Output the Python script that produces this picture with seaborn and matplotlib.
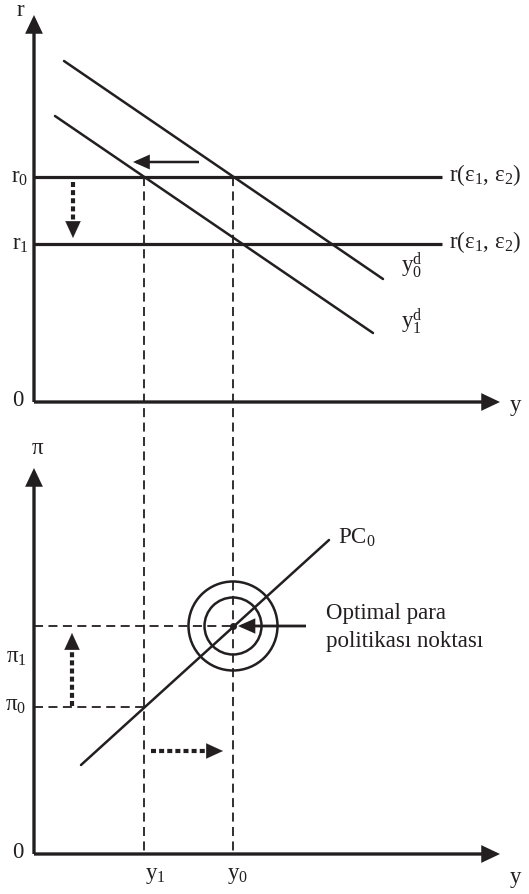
import numpy as np
import pandas as pd
import seaborn as sns
import matplotlib
matplotlib.use("Agg")
import matplotlib.pyplot as plt
from matplotlib.patches import Circle

sns.set_style("white")
plt.rcParams['font.family'] = ['Liberation Serif', 'DejaVu Serif']
plt.rcParams['mathtext.fontset'] = 'custom'
plt.rcParams['mathtext.rm'] = 'Liberation Serif'
plt.rcParams['mathtext.it'] = 'Liberation Serif:italic'

INK = '#231f20'

# ---- diagram data (figure pixel coordinates, y grows downward) ----
origin_top = (34, 402)
origin_bot = (34, 854)
x_axis_end = 500
y_axis_top_end = 15
y_axis_bot_end = 468

r_levels = [177, 244]                       # r0, r1
r_line_x = [34, 442]
yd0_x = [64, 383]; yd0_y = [61, 279]        # y0^d demand curve
yd1_x = [55, 373]; yd1_y = [116, 333]       # y1^d demand curve
pc_x = [81, 329]; pc_y = [765, 540]         # PC0 Phillips curve
y_levels = [233, 144]                       # y0, y1
pi_levels = [707, 626]                      # pi0, pi1
target = (233, 626)
circle_radii = [28.5, 44.5]

fig = plt.figure(figsize=(5.29, 8.94), dpi=100)
ax = fig.add_axes([0, 0, 1, 1])
ax.set_xlim(0, 529)
ax.set_ylim(894, 0)
ax.axis('off')

def arrow(p0, p1, lw=2.4, hl=0.95, hw=0.45, ls='-'):
    ax.annotate('', xy=p1, xytext=p0,
                arrowprops=dict(arrowstyle=f'-|>,head_length={hl},head_width={hw}',
                                lw=lw, color=INK, shrinkA=0, shrinkB=0,
                                linestyle=ls, joinstyle='miter', capstyle='butt'))

# axes
for (ox, oy), ytop in [(origin_top, y_axis_top_end), (origin_bot, y_axis_bot_end)]:
    arrow((ox, oy), (ox, ytop))
    arrow((ox, oy), (x_axis_end, oy))

# r lines
for r in r_levels:
    ax.plot(r_line_x, [r, r], color=INK, lw=2.3, solid_capstyle='butt')

# demand curves and Phillips curve through seaborn
for xs, ys in [(yd0_x, yd0_y), (yd1_x, yd1_y), (pc_x, pc_y)]:
    sns.lineplot(x=xs, y=ys, ax=ax, color=INK, lw=1.8, sort=False)

# vertical dashed lines
for yv in y_levels:
    ax.plot([yv, yv], [r_levels[0], origin_bot[1]], color=INK, lw=1.3,
            dashes=(5, 3))
# horizontal dashed lines
ax.plot([34, y_levels[0]], [pi_levels[1]] * 2, color=INK, lw=1.3, dashes=(5, 3))
ax.plot([34, y_levels[1]], [pi_levels[0]] * 2, color=INK, lw=1.3, dashes=(5, 3))

# circles
for rad in circle_radii:
    ax.add_patch(Circle(target, rad, fill=False, ec=INK, lw=1.8))
ax.plot(*target, 'o', color=INK, ms=4)

# solid arrows
arrow((199, 162), (133, 162), lw=1.8, hl=0.9, hw=0.4)
arrow((306, 626), (238, 626), lw=2.0, hl=0.9, hw=0.4)

# dotted thick arrows
def dotted_arrow(p0, p1, head_at):
    ax.plot([p0[0], head_at[0]], [p0[1], head_at[1]], color=INK, lw=3.0,
            dashes=(1.2, 0.75), solid_capstyle='butt', dash_capstyle='butt')
    arrow(head_at, p1, lw=0.1, hl=1.2, hw=0.55)

dotted_arrow((73, 182), (73, 238), (73, 224))
dotted_arrow((72, 706), (72, 633), (72, 647))
dotted_arrow((151, 751), (223, 751), (208, 751))

# labels
fs = 16.5
kw = dict(color=INK, fontsize=fs)
ax.text(20, 10, 'r', ha='center', va='center', **kw)
ax.text(18, 400, '0', ha='center', va='center', **kw)
ax.text(18, 853, '0', ha='center', va='center', **kw)
ax.text(20, 177, r'$\mathrm{r}_0$', ha='center', va='center', **kw)
ax.text(20, 244, r'$\mathrm{r}_1$', ha='center', va='center', **kw)
for r in r_levels:
    ax.text(449, r - 2, r'$\mathrm{r(\varepsilon_1,\,\varepsilon_2)}$', ha='left', va='center', **kw)
ax.text(401, 266, r'$\mathrm{y}_0^\mathrm{d}$', ha='left', va='center', **kw)
ax.text(401, 322, r'$\mathrm{y}_1^\mathrm{d}$', ha='left', va='center', **kw)
ax.text(515, 405, 'y', ha='center', va='center', **kw)
ax.text(515, 877, 'y', ha='center', va='center', **kw)
ax.text(38, 448, 'π', ha='center', va='center', **kw)
ax.text(16, 657, r'$\mathrm{\pi}_1$', ha='center', va='center', **kw)
ax.text(16, 705, r'$\mathrm{\pi}_0$', ha='center', va='center', **kw)
ax.text(155, 876, r'$\mathrm{y}_1$', ha='center', va='center', **kw)
ax.text(238, 876, r'$\mathrm{y}_0$', ha='center', va='center', **kw)
ax.text(338, 538, r'$\mathrm{PC}_0$', ha='left', va='center', **kw)
ax.text(326, 614, 'Optimal para', ha='left', va='center', **kw)
ax.text(326, 641, 'politikası noktası', ha='left', va='center', **kw)

fig.savefig('out.png', dpi=100)
